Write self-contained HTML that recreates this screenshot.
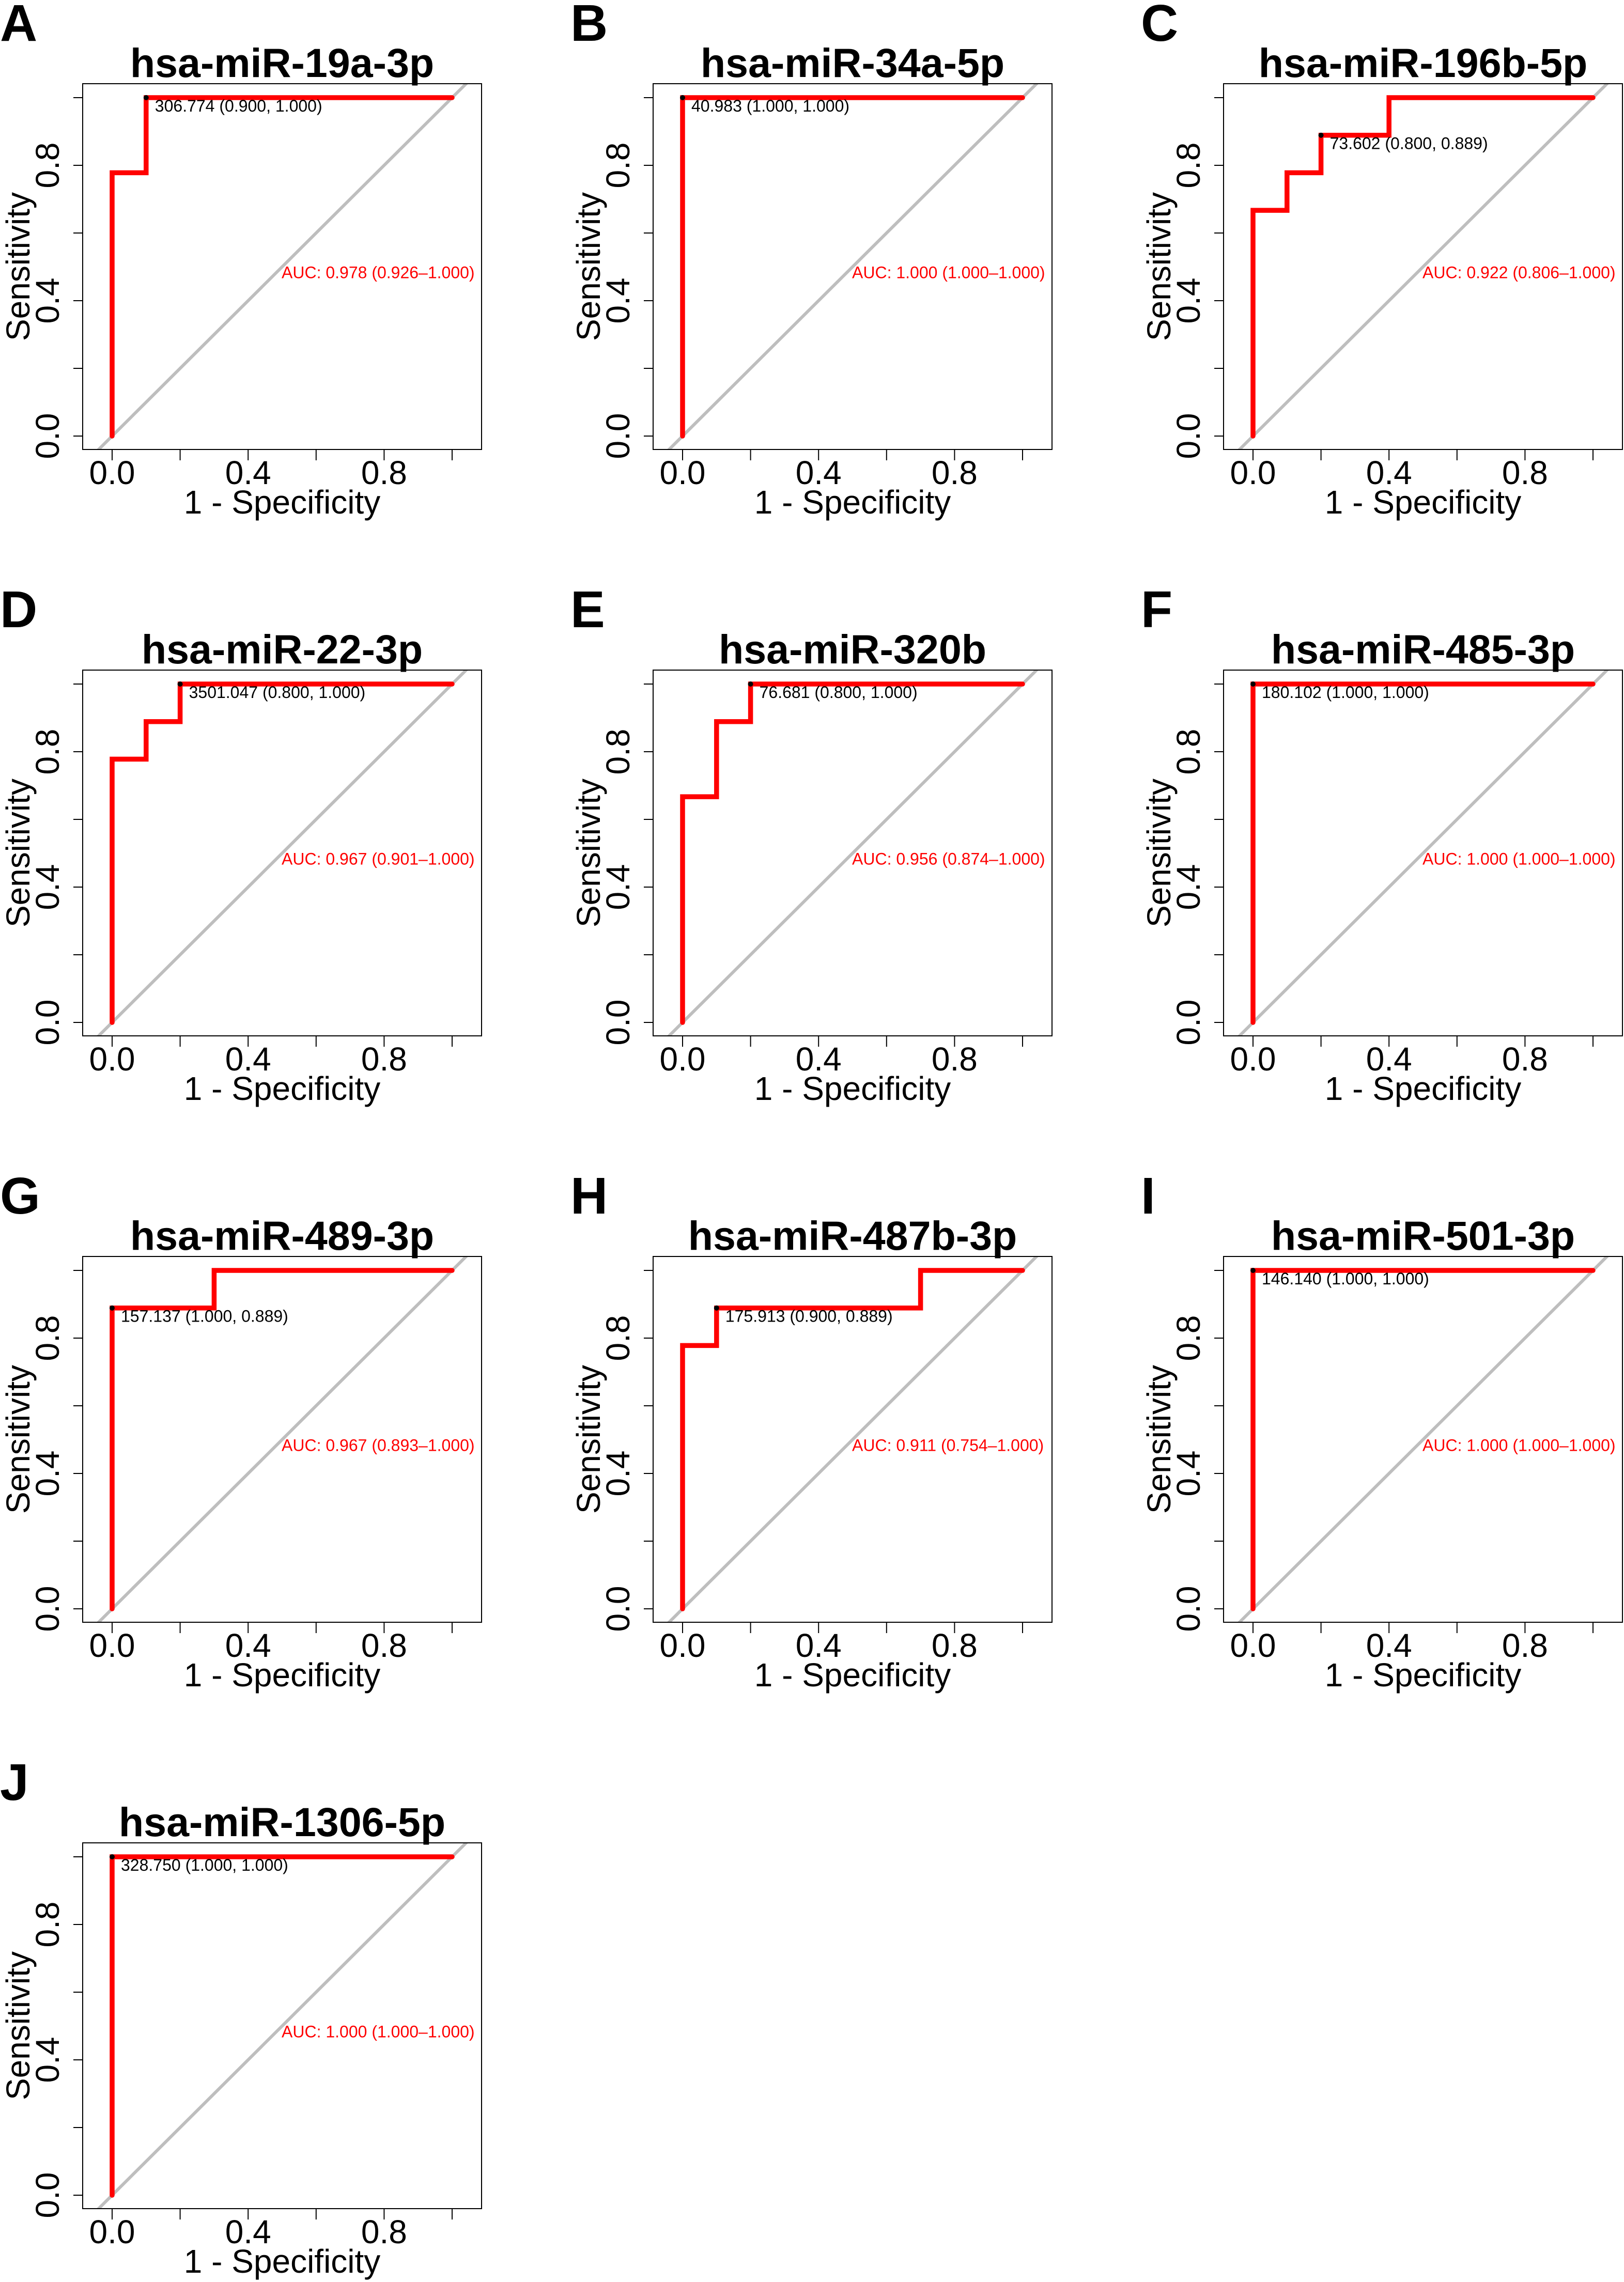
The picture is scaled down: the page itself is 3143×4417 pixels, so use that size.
<!DOCTYPE html>
<html><head><meta charset="utf-8">
<style>
html,body{margin:0;padding:0;background:#fff;}
svg{display:block;font-family:"Liberation Sans",Arial,sans-serif;}
</style></head>
<body>
<svg id="fig" width="3143" height="4417" viewBox="0 0 3143 4417" xmlns="http://www.w3.org/2000/svg"></svg>
<script>
// ---- data ----
const panelLetters = ["A","B","C","D","E","F","G","H","I","J"];
const panelTitles = ["hsa-miR-19a-3p","hsa-miR-34a-5p","hsa-miR-196b-5p","hsa-miR-22-3p","hsa-miR-320b","hsa-miR-485-3p","hsa-miR-489-3p","hsa-miR-487b-3p","hsa-miR-501-3p","hsa-miR-1306-5p"];
const rocFpr = [
  [0,0,0.1,0.1,1],
  [0,0,1],
  [0,0,0.1,0.1,0.2,0.2,0.4,0.4,1],
  [0,0,0.1,0.1,0.2,0.2,1],
  [0,0,0.1,0.1,0.2,0.2,1],
  [0,0,1],
  [0,0,0.3,0.3,1],
  [0,0,0.1,0.1,0.7,0.7,1],
  [0,0,1],
  [0,0,1]
];
const rocTpr = [
  [0,0.778,0.778,1,1],
  [0,1,1],
  [0,0.667,0.667,0.778,0.778,0.889,0.889,1,1],
  [0,0.778,0.778,0.889,0.889,1,1],
  [0,0.667,0.667,0.889,0.889,1,1],
  [0,1,1],
  [0,0.889,0.889,1,1],
  [0,0.778,0.778,0.889,0.889,1,1],
  [0,1,1],
  [0,1,1]
];
const bestFpr = [0.1,0,0.2,0.2,0.2,0,0,0.1,0,0];
const bestTpr = [1,1,0.889,1,1,1,0.889,0.889,1,1];
const bestLabels = ["306.774 (0.900, 1.000)","40.983 (1.000, 1.000)","73.602 (0.800, 0.889)","3501.047 (0.800, 1.000)","76.681 (0.800, 1.000)","180.102 (1.000, 1.000)","157.137 (1.000, 0.889)","175.913 (0.900, 0.889)","146.140 (1.000, 1.000)","328.750 (1.000, 1.000)"];
const aucLabels = ["AUC: 0.978 (0.926–1.000)","AUC: 1.000 (1.000–1.000)","AUC: 0.922 (0.806–1.000)","AUC: 0.967 (0.901–1.000)","AUC: 0.956 (0.874–1.000)","AUC: 1.000 (1.000–1.000)","AUC: 0.967 (0.893–1.000)","AUC: 0.911 (0.754–1.000)","AUC: 1.000 (1.000–1.000)","AUC: 1.000 (1.000–1.000)"];
const xTicks = [0,0.2,0.4,0.6,0.8,1.0];
const xTickLabels = ["0.0","","0.4","","0.8",""];
const yTicks = [0,0.2,0.4,0.6,0.8,1.0];
const yTickLabels = ["0.0","","0.4","","0.8",""];

// ---- drawing ----
const NS = "http://www.w3.org/2000/svg";
const svg = document.getElementById("fig");
function mk(tag, attrs, parent){
  const e = document.createElementNS(NS, tag);
  for (const k in attrs) e.setAttribute(k, attrs[k]);
  parent.appendChild(e);
  return e;
}
const COL = 1104, ROW = 1135;
panelTitles.forEach((title, i) => {
  const ox = (i % 3) * COL, oy = Math.floor(i / 3) * ROW;
  const g = mk("g", {transform: `translate(${ox},${oy})`}, svg);
  
  
  const bx0 = 160, bx1 = 932, by0 = 162, by1 = 870;
  const sx = v => 217 + v * 658;
  const sy = v => 844 - v * 655;
  const clipId = "clip" + i;
  const cp = mk("clipPath", {id: clipId}, g);
  mk("rect", {x: bx0, y: by0, width: bx1 - bx0, height: by1 - by0}, cp);

  const letter = mk("text", {x: 0, y: 79, "font-size": 100, "font-weight": "bold", fill: "#000"}, g);
  letter.textContent = panelLetters[i];
  
  

  const t = mk("text", {x: (bx0 + bx1) / 2, y: 149, "font-size": 79, "font-weight": "bold", "text-anchor": "middle", fill: "#000"}, g);
  t.textContent = title;
  
  

  const diag = mk("line", {x1: sx(-0.2), y1: sy(-0.2), x2: sx(1.2), y2: sy(1.2), stroke: "#bebebe", "stroke-width": 6, "clip-path": `url(#${clipId})`}, g);
  
  

  const pts = rocFpr[i].map((f, k) => `${sx(f)},${sy(rocTpr[i][k])}`).join(" ");
  const curve = mk("polyline", {points: pts, fill: "none", stroke: "#ff0000", "stroke-width": 9.5, "stroke-linejoin": "miter", "stroke-linecap": "round"}, g);
  
  

  const box = mk("rect", {x: bx0, y: by0, width: bx1 - bx0, height: by1 - by0, fill: "none", stroke: "#000", "stroke-width": 2}, g);
  
  

  const dot = mk("circle", {cx: sx(bestFpr[i]), cy: sy(bestTpr[i]), r: 5, fill: "#000"}, g);
  
  
  const bl = mk("text", {x: sx(bestFpr[i]) + 17, y: sy(bestTpr[i]) + 27, "font-size": 32, fill: "#000"}, g);
  bl.textContent = bestLabels[i];
  
  

  const al = mk("text", {x: sx(0.5) - 1, y: sy(0.5) + 22, "font-size": 32, fill: "#ff0000"}, g);
  al.textContent = aucLabels[i];
  
  

  xTicks.forEach((v, k) => {
    const tk = mk("line", {x1: sx(v), y1: by1, x2: sx(v), y2: by1 + 21, stroke: "#000", "stroke-width": 2}, g);
    
    
    if (xTickLabels[k]) {
      const tl = mk("text", {x: sx(v), y: 937, "font-size": 64, "text-anchor": "middle", fill: "#000"}, g);
      tl.textContent = xTickLabels[k];
      
      
    }
  });
  const xt = mk("text", {x: (bx0 + bx1) / 2, y: 994, "font-size": 64, "text-anchor": "middle", fill: "#000"}, g);
  xt.textContent = "1 - Specificity";
  
  

  yTicks.forEach((v, k) => {
    const tk = mk("line", {x1: bx0, y1: sy(v), x2: bx0 - 18, y2: sy(v), stroke: "#000", "stroke-width": 2}, g);
    
    
    if (yTickLabels[k]) {
      const tl = mk("text", {x: 0, y: 0, "font-size": 64, "text-anchor": "middle", fill: "#000", transform: `translate(114,${sy(v)}) rotate(-90)`}, g);
      tl.textContent = yTickLabels[k];
      
      
    }
  });
  const yt = mk("text", {x: 0, y: 0, "font-size": 64, "text-anchor": "middle", fill: "#000", transform: `translate(57,${(by0 + by1) / 2}) rotate(-90)`}, g);
  yt.textContent = "Sensitivity";
  
  
});
</script>
</body></html>
